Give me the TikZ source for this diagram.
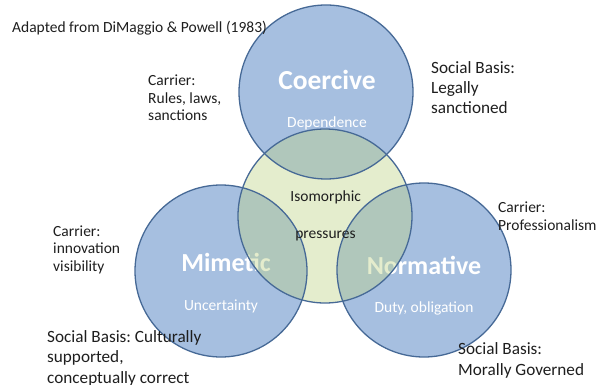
\documentclass[tikz,border=0pt]{standalone}
\usepackage{fontspec}
\setmainfont{Carlito}
\frenchspacing
\begin{document}
\begin{tikzpicture}[x=1pt,y=-1pt,
  blueball/.style={fill={rgb,255:red,166;green,191;blue,224}},
  greenball/.style={fill={rgb,255:red,191;green,212;blue,136},fill opacity=0.42},
  rim/.style={draw={rgb,255:red,70;green,105;blue,150},line width=1.3pt},
  txt/.style={inner sep=0pt,text={rgb,255:red,30;green,30;blue,30}},
  carrier/.style={txt,anchor=base west,align=left,font=\fontsize{15.5}{17.5}\selectfont},
  basis/.style={txt,anchor=base west,align=left,font=\fontsize{17.2}{20.3}\selectfont},
  bigword/.style={inner sep=0pt,anchor=base,text=white,font=\fontsize{26}{30}\selectfont\bfseries},
  subword/.style={inner sep=0pt,anchor=base,text=white,font=\fontsize{15.5}{18}\selectfont},
  midword/.style={txt,anchor=base,font=\fontsize{15.5}{18}\selectfont}]
\useasboundingbox (0,0) rectangle (597,385);

% circle centres
\coordinate (coe) at (326,92);
\coordinate (mim) at (221,271);
\coordinate (nor) at (424,270);
\coordinate (iso) at (325,216);

% the three pressures
\fill[blueball] (coe) circle (87);
\fill[blueball] (mim) circle (86);
\fill[blueball] (nor) circle (87);

\node[bigword,font=\fontsize{27.5}{30}\selectfont\bfseries] (tcoe) at (327,89.3) {Coercive};
\node[subword] (dcoe) at (327,128) {Dependence};
\node[bigword] (tmim) at (226,271.7) {Mimetic};
\node[subword] (dmim) at (221,310) {Uncertainty};
\node[bigword] (tnor) at (424,274) {Normative};
\node[subword] (dnor) at (424,312.7) {Duty, obligation};

% shared centre
\fill[greenball] (iso) circle (87);

\draw[rim] (coe) circle (87);
\draw[rim] (mim) circle (86);
\draw[rim] (nor) circle (87);
\draw[rim] (iso) circle (87);

\node[midword] (iso1) at (325.7,201.7) {Isomorphic};
\node[midword] (iso2) at (325.5,238.3) {pressures};

% surrounding notes (placed by the baseline of their last line)
\node[carrier] (src) at (12,33) {Adapted from DiMaggio \& Powell (1983)};
\node[carrier] (carC) at (148,121) {Carrier:\\Rules, laws,\\sanctions};
\node[basis] (basC) at (431,114) {Social Basis:\\Legally\\sanctioned};
\node[carrier] (carN) at (498,230) {Carrier:\\Professionalism};
\node[carrier] (carM) at (53,271) {Carrier:\\innovation\\visibility};
\node[basis] (basM) at (47,383) {Social Basis: Culturally\\supported,\\conceptually correct};
\node[basis] (basN) at (458,375) {Social Basis:\\Morally Governed};
\end{tikzpicture}
\end{document}
